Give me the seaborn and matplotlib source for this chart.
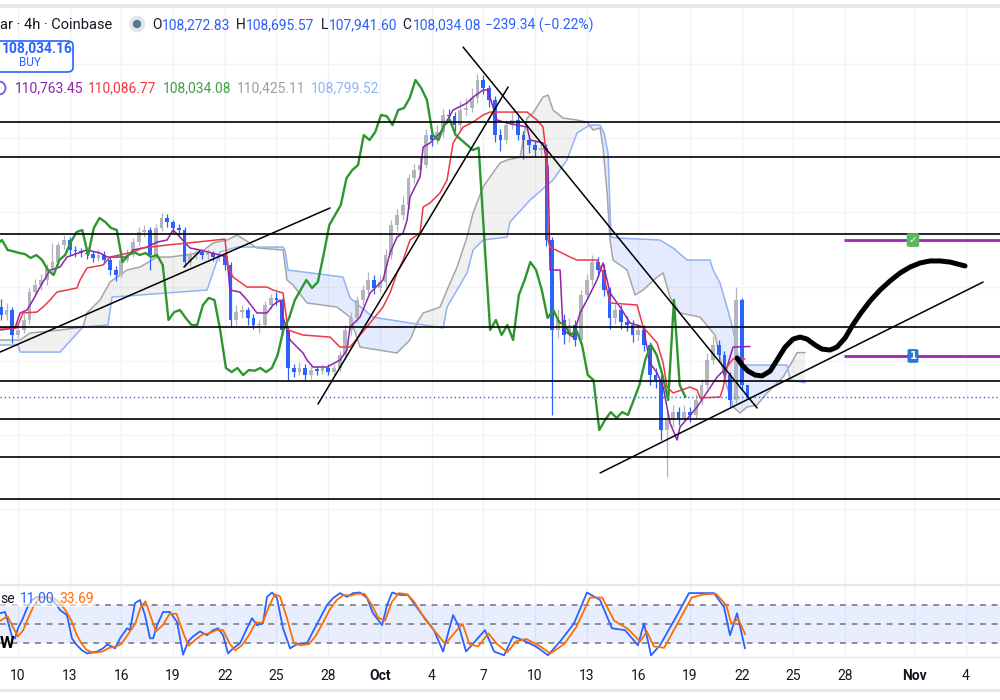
import matplotlib
matplotlib.use("Agg")

import numpy as np
import pandas as pd
import matplotlib.pyplot as plt
import seaborn as sns
from matplotlib.patches import FancyBboxPatch, Ellipse, Rectangle
from matplotlib.lines import Line2D

sns.set_theme(style="white")
plt.rcParams["font.family"] = ["Roboto", "DejaVu Sans"]

# ---------------- data (x = days since Sep 10, y = price in thousands) ----------------
base = pd.Timestamp("2025-09-10")
tick_dates = ["2025-09-10", "2025-09-13", "2025-09-16", "2025-09-19", "2025-09-22",
              "2025-09-25", "2025-09-28", "2025-10-01", "2025-10-04", "2025-10-07",
              "2025-10-10", "2025-10-13", "2025-10-16", "2025-10-19", "2025-10-22",
              "2025-10-25", "2025-10-28", "2025-11-01", "2025-11-04"]
tick_labels = ["10", "13", "16", "19", "22", "25", "28", "Oct", "4", "7",
               "10", "13", "16", "19", "22", "25", "28", "Nov", "4"]

# 8h candles starting Sep 9
first_open = 112.90
closes = [
    112.46, 112.73, 111.38, 111.65, 112.19, 113.70, 114.08, 114.35, 115.00, 115.32,
    116.24, 116.51, 115.97, 115.90, 115.81, 115.75, 115.54, 115.70, 115.43, 114.89,
    114.62, 115.43, 115.70, 116.40, 116.94, 117.05, 115.70, 117.16, 117.70, 117.48,
    117.16, 117.05, 115.32, 115.70, 115.86, 115.70, 115.81, 115.59, 115.70, 115.16,
    112.19, 112.62, 112.73, 112.30, 111.92, 111.92, 113.00, 113.38, 113.27, 111.65,
    109.60, 109.38, 109.60, 109.22, 109.49, 109.45, 109.60, 109.38, 109.60, 110.30,
    111.65, 112.30, 113.27, 113.81, 114.35, 113.92, 114.24, 115.70, 117.32, 117.86,
    118.40, 119.86, 120.29, 120.56, 122.18, 121.91, 122.34, 123.26, 123.20, 122.72,
    123.53, 123.64, 124.18, 125.15, 124.72, 124.07, 122.18, 121.91, 122.72, 122.99,
    122.18, 121.91, 121.64, 121.37, 121.50, 116.51, 111.65, 112.19, 111.38, 111.92,
    111.11, 113.54, 114.35, 115.32, 114.89, 113.81, 112.30, 112.73, 112.08, 111.92,
    111.38, 111.65, 110.84, 109.22, 108.95, 106.25, 106.79, 107.22, 106.90, 107.22,
    107.06, 107.87, 108.68, 110.03, 110.84, 110.30, 109.22, 107.87, 113.27, 108.68,
    108.03,
]
highs = [
    113.3, 113.1, 112.9, 111.9, 112.5, 113.9, 114.4, 114.7, 115.2, 116.35,
    116.4, 116.8, 116.7, 116.2, 116.1, 116.0, 115.9, 116.0, 115.9, 115.6,
    115.1, 115.6, 116.0, 116.6, 117.2, 117.3, 117.2, 117.4, 117.95, 117.9,
    117.6, 117.4, 117.2, 115.9, 116.1, 116.0, 116.0, 115.9, 115.9, 115.8,
    115.3, 113.0, 113.0, 112.9, 112.5, 112.2, 113.2, 113.6, 113.7, 113.4,
    111.8, 109.8, 109.9, 109.8, 109.7, 109.7, 109.8, 109.8, 109.8, 110.5,
    111.9, 112.6, 113.5, 114.1, 114.8, 114.6, 114.6, 116.0, 117.6, 118.2,
    118.9, 120.1, 120.6, 121.0, 122.5, 122.4, 122.7, 123.6, 123.6, 123.4,
    124.0, 124.2, 124.7, 125.5, 125.4, 124.9, 124.3, 122.5, 123.0, 123.4,
    123.2, 122.4, 122.1, 121.9, 121.8, 121.7, 116.7, 112.8, 112.5, 112.3,
    112.2, 113.8, 114.7, 115.7, 115.6, 115.2, 114.0, 113.1, 113.0, 112.4,
    112.2, 112.0, 111.9, 111.0, 109.6, 109.2, 107.2, 107.6, 107.5, 107.6,
    107.5, 108.2, 109.0, 110.4, 111.3, 111.1, 110.5, 109.4, 113.97, 113.4,
    108.70,
]
lows = [
    112.2, 112.2, 110.95, 111.2, 111.5, 112.0, 113.5, 113.8, 114.1, 114.8,
    115.1, 116.0, 115.7, 115.6, 115.6, 115.5, 115.3, 115.4, 115.2, 114.6,
    114.3, 114.5, 115.3, 115.6, 116.2, 116.7, 114.9, 115.6, 117.0, 117.2,
    116.9, 116.8, 115.1, 115.1, 115.5, 115.5, 115.5, 115.4, 115.4, 114.9,
    111.8, 111.9, 112.3, 111.9, 111.7, 111.5, 111.8, 112.8, 113.0, 111.4,
    108.95, 109.1, 109.2, 108.95, 109.0, 109.2, 109.3, 109.2, 109.2, 109.4,
    110.1, 111.4, 112.1, 113.0, 113.6, 113.6, 113.7, 114.0, 115.5, 117.0,
    117.6, 118.2, 119.6, 120.0, 120.4, 121.6, 121.7, 122.1, 122.9, 122.4,
    122.5, 123.2, 123.4, 123.9, 124.4, 123.7, 121.8, 121.3, 121.7, 122.5,
    121.9, 120.9, 121.2, 121.0, 121.1, 116.2, 107.06, 111.2, 110.9, 111.0,
    110.8, 110.9, 113.3, 114.1, 114.5, 113.5, 111.7, 112.0, 111.7, 111.6,
    111.0, 111.1, 110.5, 108.7, 108.5, 105.7, 103.7, 106.4, 106.5, 106.7,
    106.7, 106.9, 107.6, 108.5, 109.8, 110.0, 108.9, 107.5, 107.7, 108.4,
    107.94,
]

tenkan = [(-1.04, 111.65), (-0.17, 111.76), (0.12, 112.57), (0.52, 112.73), (0.87, 113.27),
          (1.28, 113.97), (1.86, 114.89), (2.44, 115.05), (2.84, 115.59), (4.00, 115.97),
          (4.76, 115.81), (5.17, 115.59), (6.33, 115.59), (6.67, 115.97), (7.49, 116.13),
          (8.07, 116.40), (8.65, 116.51), (9.00, 117.05), (9.40, 116.67), (9.98, 116.08),
          (10.56, 115.97), (11.72, 115.70), (12.13, 115.59), (12.30, 113.81), (12.88, 113.70),
          (13.29, 113.27), (13.87, 112.57), (14.45, 112.57), (14.80, 113.00), (15.21, 113.27),
          (15.38, 112.35), (15.79, 111.11), (16.19, 110.73), (16.54, 110.41), (16.77, 110.03),
          (17.12, 109.65), (17.93, 109.65), (18.69, 110.03), (19.09, 110.57), (19.27, 111.81),
          (19.85, 112.35), (20.43, 113.65), (21.18, 114.35), (21.59, 115.81), (22.00, 116.67),
          (22.35, 116.89), (22.58, 117.59), (22.75, 118.83), (23.33, 119.91), (23.51, 121.53),
          (23.91, 121.75), (24.49, 122.29), (25.25, 123.53), (26.06, 123.91), (26.41, 124.23),
          (26.99, 124.61), (27.28, 124.61), (27.39, 124.23), (27.80, 122.99), (28.38, 122.83),
          (29.54, 122.61), (29.72, 121.91), (30.47, 121.75), (30.76, 120.45), (30.88, 114.89),
          (31.46, 114.89), (31.63, 111.65), (32.21, 111.27), (32.62, 112.57), (33.02, 113.27),
          (33.60, 114.35), (33.95, 115.27), (34.36, 113.65), (34.94, 112.89), (35.52, 112.03),
          (36.28, 111.81), (36.68, 109.87), (37.09, 109.33), (37.44, 108.57), (37.84, 106.63),
          (38.25, 105.71), (38.42, 106.41), (39.41, 107.49), (40.57, 109.11), (41.15, 109.65),
          (41.50, 110.73), (42.48, 110.76)]

kijun = [(-1.04, 111.76), (-0.06, 111.76), (0.12, 112.19), (0.29, 112.57), (1.10, 112.62),
         (1.45, 112.89), (1.86, 113.27), (2.26, 113.70), (3.42, 113.92), (3.60, 114.35),
         (4.00, 115.00), (4.93, 115.16), (5.34, 115.59), (6.67, 115.86), (7.26, 116.08),
         (8.65, 116.24), (10.39, 116.40), (12.01, 116.56), (12.19, 115.05), (12.48, 114.51),
         (13.29, 113.97), (14.45, 113.97), (14.80, 113.81), (15.38, 113.65), (15.67, 111.65),
         (16.54, 111.38), (18.11, 111.27), (18.69, 110.73), (19.27, 110.73), (20.43, 112.03),
         (21.18, 112.89), (21.59, 113.65), (22.00, 114.73), (22.35, 115.43), (22.75, 116.51),
         (23.33, 116.89), (23.51, 118.29), (23.91, 118.51), (24.49, 119.05), (24.90, 119.75),
         (25.25, 121.75), (25.83, 122.61), (26.41, 122.88), (26.99, 123.26), (27.39, 123.42),
         (29.54, 123.42), (30.12, 122.99), (30.47, 122.61), (30.70, 120.83), (30.76, 116.51),
         (30.88, 116.13), (32.04, 115.59), (32.44, 115.43), (33.60, 115.43), (33.95, 114.73),
         (34.36, 113.11), (35.93, 113.00), (36.28, 111.81), (37.09, 110.95), (37.44, 109.87),
         (37.67, 108.57), (38.02, 108.25), (39.00, 108.57), (39.41, 108.41), (39.58, 107.98),
         (40.74, 108.03), (40.92, 108.52), (41.15, 109.65), (41.50, 110.09), (42.19, 110.09)]

span_a = [(-1.04, 111.11), (0.12, 111.11), (0.70, 111.49), (2.44, 111.65), (3.77, 111.81),
          (4.00, 112.57), (4.76, 113.27), (5.34, 114.24), (6.33, 114.89), (7.08, 115.05),
          (7.49, 115.27), (8.07, 115.59), (8.82, 115.59), (10.56, 115.81), (11.32, 116.35),
          (12.13, 116.51), (12.71, 116.78), (13.18, 116.51), (13.87, 116.08), (15.38, 115.97),
          (15.61, 114.35), (15.96, 114.08), (16.77, 113.11), (18.51, 112.89), (19.27, 112.35),
          (19.85, 110.73), (21.99, 110.41), (22.75, 111.11), (23.16, 112.03), (23.51, 112.57),
          (24.49, 112.89), (24.90, 113.81), (25.48, 115.05), (26.06, 116.67), (26.41, 117.97),
          (26.99, 119.37), (27.39, 119.91), (27.97, 120.67), (28.38, 120.83), (29.14, 120.99),
          (29.54, 123.10), (29.89, 123.37), (30.47, 124.23), (30.76, 124.34), (31.05, 123.53),
          (31.63, 123.10), (32.44, 122.99), (33.02, 122.88), (33.37, 122.45), (33.78, 122.56),
          (33.95, 121.53), (34.19, 119.05), (34.36, 116.51), (34.53, 115.43), (35.35, 114.89),
          (35.81, 113.54), (36.28, 113.81), (37.09, 114.51), (37.44, 114.73), (37.84, 113.43),
          (38.42, 112.57), (39.58, 112.35), (40.45, 111.38), (41.03, 108.95), (41.50, 107.49),
          (41.90, 107.17), (42.31, 107.49), (42.89, 107.60), (43.47, 108.25), (44.40, 109.11),
          (44.98, 110.03), (45.21, 110.43), (45.68, 110.43)]

span_b = [(-1.04, 110.84), (0.0, 110.84), (0.12, 110.46), (2.44, 110.46), (3.77, 111.81),
          (5.22, 111.92), (5.46, 113.43), (10.97, 113.81), (11.72, 115.86), (12.71, 116.13),
          (15.38, 116.13), (15.50, 115.97), (15.67, 114.89), (18.86, 114.51), (19.27, 113.38),
          (20.60, 112.35), (22.75, 112.03), (24.67, 111.76), (24.90, 112.89), (26.06, 114.73),
          (26.41, 115.97), (26.99, 116.51), (28.38, 116.67), (28.55, 117.48), (29.72, 118.67),
          (31.05, 119.75), (31.86, 120.83), (32.44, 122.29), (33.20, 122.72), (33.78, 122.72),
          (34.01, 122.29), (34.24, 121.21), (34.42, 116.67), (34.77, 116.62), (37.26, 116.51),
          (38.02, 116.08), (38.83, 115.43), (40.16, 115.43), (40.34, 114.89), (40.74, 114.19),
          (41.15, 112.89), (41.50, 111.65), (41.90, 109.76), (44.63, 109.76), (44.81, 108.95),
          (45.68, 108.80)]

levels = [122.88, 120.99, 116.83, 111.81, 108.90, 106.84, 104.79, 102.52]
last_price = 108.03
trend_lines = [((17.41, 107.65), (28.44, 124.77)),
               ((-1.04, 110.46), (18.11, 118.24)),
               ((9.63, 115.05), (10.56, 115.92)),
               ((25.83, 126.93), (42.89, 107.44)),
               ((33.78, 103.93), (56.01, 114.24))]
forecast = [(41.73, 110.14), (42.02, 109.76), (42.37, 109.43), (42.78, 109.22), (43.18, 109.17),
            (43.65, 109.43), (44.05, 110.03), (44.52, 110.73), (44.98, 111.16), (45.39, 111.27),
            (45.79, 111.16), (46.26, 110.84), (46.66, 110.62), (47.13, 110.57), (47.53, 110.73),
            (48.00, 111.22), (48.41, 111.87), (48.87, 112.51), (49.45, 113.22), (50.03, 113.81),
            (50.61, 114.30), (51.19, 114.73), (51.77, 115.05), (52.35, 115.27), (52.93, 115.38),
            (53.51, 115.38), (54.09, 115.32), (54.55, 115.21), (54.96, 115.11)]
targets = [116.51, 110.25]
target_badges = ["\u2713", "1"]

stoch_k = [(-1.04, 67), (-0.75, 69), (-0.58, 53), (-0.35, 30), (-0.17, 27), (0.0, 43), (0.29, 59),
           (0.52, 75), (0.81, 88), (1.10, 93), (1.45, 93), (1.86, 91), (2.26, 80), (2.44, 72),
           (2.84, 64), (3.13, 27), (3.42, 16), (3.71, 8), (4.00, 3), (4.59, 6), (4.93, 11),
           (5.17, 17), (5.46, 14), (5.63, 11), (5.92, 27), (6.33, 43), (6.50, 40), (6.79, 83),
           (7.08, 88), (7.37, 64), (7.66, 27), (7.84, 27), (8.07, 48), (8.42, 69), (8.82, 69),
           (9.23, 53), (9.58, 1), (9.87, 22), (10.16, 30), (10.56, 38), (10.97, 32), (11.32, 40),
           (11.61, 43), (11.90, 32), (12.19, 3), (12.48, 11), (12.88, 19), (13.29, 43), (13.58, 59),
           (13.87, 48), (14.22, 51), (14.45, 93), (14.74, 100), (15.03, 91), (15.38, 43),
           (15.79, 11), (16.08, 16), (16.37, 19), (16.77, 19), (17.12, 38), (17.53, 59),
           (17.93, 80), (18.28, 91), (18.69, 99), (19.09, 93), (19.44, 99), (19.85, 100),
           (20.26, 91), (20.60, 67), (21.13, 48), (21.42, 80), (21.71, 100), (22.17, 96),
           (22.63, 96), (23.39, 67), (24.14, 40), (24.67, 6), (25.25, 64), (25.60, 45), (26.00, 6),
           (26.52, 22), (27.10, 40), (27.63, 6), (28.21, 0), (28.73, 30), (29.31, 24), (30.06, 14),
           (30.76, 0), (31.52, 24), (32.27, 51), (33.02, 100), (33.78, 88), (34.47, 43),
           (35.23, 40), (35.98, 16), (36.33, 51), (36.74, 0), (37.26, 16), (38.19, 61),
           (38.94, 99), (39.70, 99), (40.39, 99), (40.97, 77), (41.32, 32), (41.73, 67), (42.19, 11)]
stoch_d = [(-1.04, 55), (-0.6, 62), (-0.3, 45), (0.0, 30), (0.3, 40), (0.6, 60), (0.9, 78), (1.2, 90),
           (1.6, 93), (2.0, 92), (2.4, 84), (2.8, 70), (3.1, 55), (3.4, 33), (3.7, 18), (4.0, 8),
           (4.4, 4), (4.9, 6), (5.3, 12), (5.7, 14), (6.0, 18), (6.4, 34), (6.8, 50), (7.1, 75),
           (7.4, 86), (7.7, 62), (8.0, 38), (8.4, 48), (8.8, 66), (9.2, 66), (9.6, 35), (9.9, 15),
           (10.3, 25), (10.7, 33), (11.1, 35), (11.5, 40), (11.9, 40), (12.3, 18), (12.6, 8),
           (13.0, 16), (13.4, 32), (13.8, 52), (14.2, 52), (14.6, 80), (14.9, 97), (15.2, 94),
           (15.6, 60), (16.0, 20), (16.4, 16), (16.9, 18), (17.3, 32), (17.7, 52), (18.1, 73),
           (18.5, 88), (18.9, 96), (19.3, 95), (19.7, 98), (20.1, 98), (20.5, 82), (20.9, 60),
           (21.3, 55), (21.7, 85), (22.1, 99), (22.6, 97), (23.0, 85), (23.6, 58), (24.2, 38),
           (24.8, 18), (25.4, 38), (25.8, 50), (26.2, 18), (26.7, 14), (27.3, 35), (27.8, 18),
           (28.4, 5), (28.9, 22), (29.5, 26), (30.2, 16), (30.9, 3), (31.7, 18), (32.4, 45),
           (33.2, 92), (33.9, 92), (34.6, 55), (35.4, 42), (36.1, 22), (36.5, 38), (36.9, 14),
           (37.5, 12), (38.3, 52), (39.1, 92), (39.8, 97), (40.5, 98), (41.1, 80), (41.4, 50),
           (41.8, 58), (42.2, 33.69)]

# ---------------- styling ----------------
BLUE = "#2962ff"
TXT = "#131722"
chikou_shift = 3.6  # days
bar_days = np.arange(len(closes)) / 3 - 1

o = np.r_[first_open, closes[:-1]]
c = np.array(closes)
tick_pos = (pd.to_datetime(tick_dates) - base).days.values


def px(x, y):
    return x / 1000, 1 - y / 700


fig = plt.figure(figsize=(10, 7), dpi=100)
ax = fig.add_axes([0, 115 / 700, 1, 577 / 700])
ax2 = fig.add_axes([0, 43 / 700, 1, 72 / 700])

for a in (ax, ax2):
    a.set_xlim(-1.045, 56.99)
    for s in a.spines.values():
        s.set_visible(False)
    for t in tick_pos:
        a.axvline(t, color="#eff1f5", lw=1, zorder=0)
ax.set_ylim(97.88, 129.04)
ax2.set_ylim(-2.7, 111.9)
for p in [102, 106, 110, 114, 118, 122, 126]:
    ax.axhline(p, color="#f1f3f6", lw=1, zorder=0)

# cloud
a_df = pd.DataFrame(span_a, columns=["day", "price"])
b_df = pd.DataFrame(span_b, columns=["day", "price"])
grid = np.union1d(a_df.day, b_df.day)
ya = np.interp(grid, a_df.day, a_df.price)
yb = np.interp(grid, b_df.day, b_df.price)
ax.fill_between(grid, ya, yb, where=ya >= yb, interpolate=True, color="#9e9e9e", alpha=0.15, lw=0, zorder=1)
ax.fill_between(grid, ya, yb, where=ya < yb, interpolate=True, color=BLUE, alpha=0.12, lw=0, zorder=1)
sns.lineplot(data=a_df, x="day", y="price", ax=ax, color="#a6a6a6", lw=1.1, sort=False, estimator=None, zorder=2)
sns.lineplot(data=b_df, x="day", y="price", ax=ax, color="#8fb3f5", lw=1.1, sort=False, estimator=None, zorder=2)

# candles
colors = np.where(c >= o, "#b2b5be", BLUE)
ax.vlines(bar_days, lows, highs, colors=colors, lw=0.9, zorder=3)
ax.bar(bar_days, np.maximum(np.abs(c - o), 0.08), bottom=np.minimum(o, c), width=0.22,
       color=colors, lw=0, zorder=3)

# ichimoku lines
t_df = pd.DataFrame(tenkan, columns=["day", "price"])
k_df = pd.DataFrame(kijun, columns=["day", "price"])
sns.lineplot(data=t_df, x="day", y="price", ax=ax, color="#8e24aa", lw=1.1, sort=False, estimator=None, zorder=4)
sns.lineplot(data=k_df, x="day", y="price", ax=ax, color="#f23645", lw=1.1, sort=False, estimator=None, zorder=4)
sns.lineplot(x=bar_days - chikou_shift, y=c, ax=ax, color="#2e962e", lw=1.7, sort=False, estimator=None, zorder=4)

# drawings
for lv in levels:
    ax.axhline(lv, color="black", lw=1.2, zorder=5)
ax.axhline(last_price, color=BLUE, lw=1, ls=(0, (1, 2)), zorder=5)
for (x0, y0), (x1, y1) in trend_lines:
    ax.plot([x0, x1], [y0, y1], color="black", lw=1.1, zorder=6)
f_df = pd.DataFrame(forecast, columns=["day", "price"])
ax.plot(f_df.day, f_df.price, color="black", lw=3.6, solid_capstyle="round", solid_joinstyle="round", zorder=6)
badge_colors = ["#5cb85c", "#2b78d0"]
for p, lab, bc in zip(targets, target_badges, badge_colors):
    ax.hlines(p, 47.94, 57, color="#9c27b0", lw=2, zorder=6)
    ax.text(51.94, p, lab, ha="center", va="center", color="white", fontsize=7.5, fontweight="bold",
            family=["DejaVu Sans"], zorder=7,
            bbox=dict(boxstyle="round,pad=0.18", fc=bc, ec="none"))

ax.set_xticks([])
ax.set_yticks([])
ax.set_xlabel("")
ax.set_ylabel("")

# stochastic panel
ax2.axhspan(20, 80, color=BLUE, alpha=0.1, lw=0, zorder=1)
for lv in (80, 50, 20):
    ax2.axhline(lv, color="#8a8d96", ls=(0, (3, 3)), lw=1.4, zorder=2)
sk = pd.DataFrame(stoch_k, columns=["day", "v"])
sd = pd.DataFrame(stoch_d, columns=["day", "v"])
sns.lineplot(data=sk, x="day", y="v", ax=ax2, color=BLUE, lw=1.3, sort=False, estimator=None, zorder=3)
sns.lineplot(data=sd, x="day", y="v", ax=ax2, color="#ff6d00", lw=1.3, sort=False, estimator=None, zorder=4)
ax2.set_yticks([])
ax2.set_ylabel("")
ax2.set_xlabel("")
ax2.set_xticks(tick_pos, tick_labels)
ax2.tick_params(axis="x", length=0, pad=9, labelsize=10, colors=TXT)
for lab in ax2.get_xticklabels():
    if lab.get_text() in ("Oct", "Nov"):
        lab.set_fontweight("bold")

# frame lines
fig.add_artist(Rectangle(px(0, 8), 1, 4 / 700, transform=fig.transFigure, color="#e6e7ea", lw=0))
for yy, lw in ((585, 1.5), (657, 1), (690, 2)):
    fig.add_artist(Line2D([0, 1], [1 - yy / 700] * 2, transform=fig.transFigure, color="#e4e6eb", lw=lw))

# header
fig.text(*px(0, 25), "ar \u00b7 4h \u00b7 Coinbase", fontsize=10.5, color=TXT, va="center")
fig.add_artist(Ellipse(px(137, 24), 15 / 1000, 15 / 700, transform=fig.transFigure, color="#e3e5ea"))
fig.add_artist(Ellipse(px(137, 24), 7 / 1000, 7 / 700, transform=fig.transFigure, color="#4e7e89"))
ohlc = [("O", 152, "108,272.83", 162), ("H", 236, "108,695.57", 246),
        ("L", 321, "107,941.60", 329), ("C", 402, "108,034.08", 413)]
for k, kx, v, vx in ohlc:
    fig.text(*px(kx, 25), k, fontsize=10, color=TXT, va="center")
    fig.text(*px(vx, 25), v, fontsize=10, color=BLUE, va="center")
fig.text(*px(485, 25), "\u2212239.34 (\u22120.22%)", fontsize=10, color=BLUE, va="center")

fig.add_artist(FancyBboxPatch(px(-14, 72), 87 / 1000, 31 / 700, transform=fig.transFigure,
                              boxstyle="round,pad=0,rounding_size=0.006", fc="white", ec=BLUE, lw=1.2))
fig.text(*px(2, 49), "108,034.16", fontsize=10, color=BLUE, ha="left", va="center", fontweight="bold")
fig.text(*px(30, 63), "BUY", fontsize=8.5, color=BLUE, ha="center", va="center")

fig.add_artist(Ellipse(px(-1, 88), 13 / 1000, 13 / 700, transform=fig.transFigure, fc="white", ec="#6c5ce7", lw=1.3))
ind_vals = [("110,763.45", 15, "#8e24aa"), ("110,086.77", 88, "#f23645"), ("108,034.08", 163, "#43a047"),
            ("110,425.11", 237, "#9e9e9e"), ("108,799.52", 311, "#90b4f8")]
for s, x, col in ind_vals:
    fig.text(*px(x, 88), s, fontsize=10, color=col, va="center")

# stochastic legend
fig.add_artist(Rectangle(px(0, 607), 96 / 1000, 17 / 700, transform=fig.transFigure, color="white", alpha=0.6, lw=0))
fig.text(*px(0, 599), "se", fontsize=10, color=TXT, va="center")
fig.text(*px(20, 599), "11.00", fontsize=10, color=BLUE, va="center")
fig.text(*px(59, 599), "33.69", fontsize=10, color="#ff6d00", va="center")
fig.text(*px(0, 644), "W", fontsize=12, color="black", va="center", fontweight="bold")

fig.savefig("out.png", dpi=100)
